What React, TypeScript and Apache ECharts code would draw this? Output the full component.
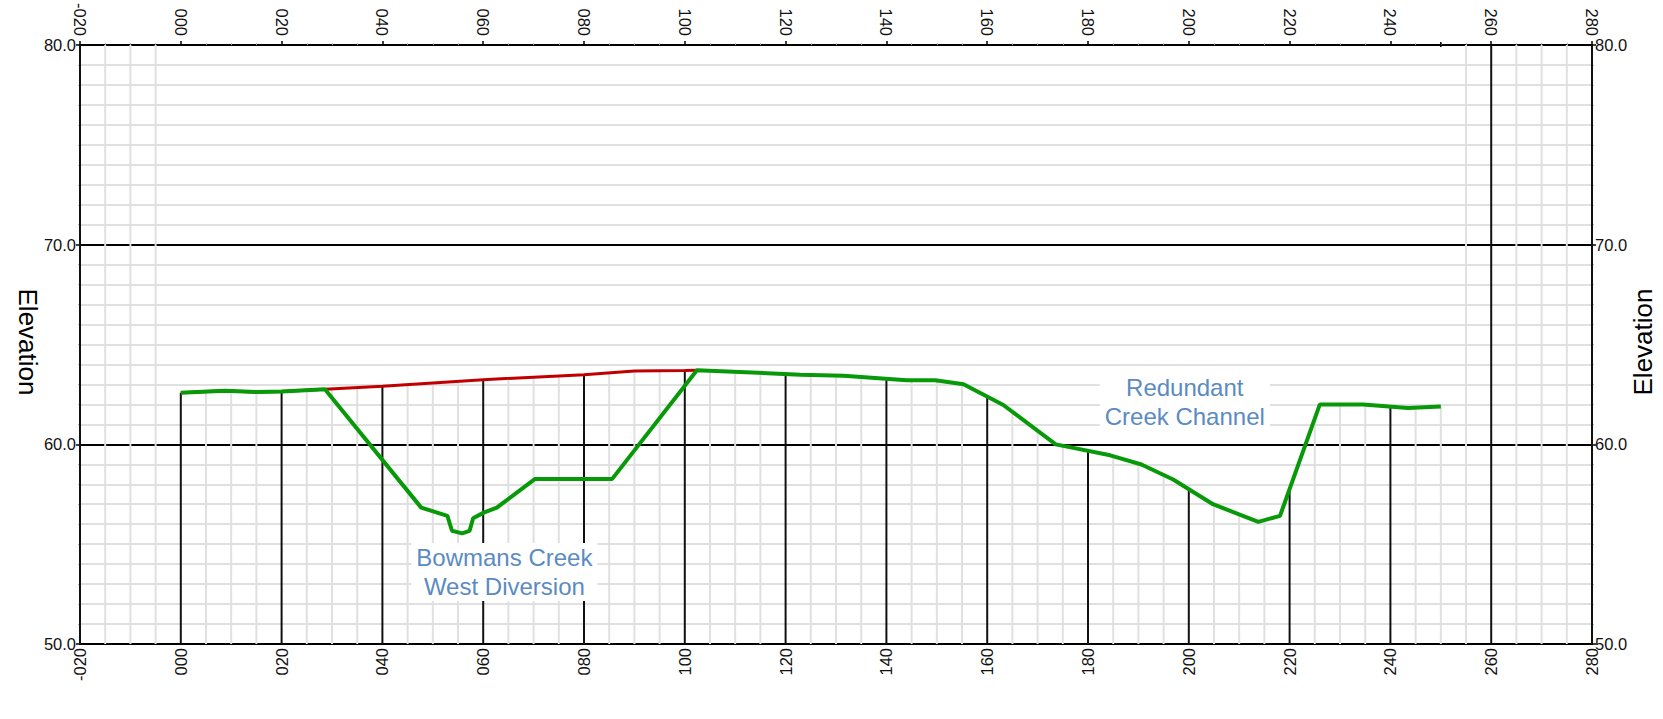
import React, { useEffect, useRef } from 'react';
import * as echarts from 'echarts';

// Existing ground profile (green)
const groundX = [0, 8.7, 15, 20, 28.6, 47.7, 52.9, 53.8, 55.8, 57.3, 58.0, 60.1, 62.7, 70.3, 85.6, 102.4, 122.9, 131.5, 144, 149.7, 155.3, 163.2, 173.6, 184.4, 190.6, 196.9, 204.8, 213.8, 218.1, 226, 234.6, 243.5, 250];
const groundY = [62.58, 62.68, 62.62, 62.65, 62.76, 56.83, 56.42, 55.67, 55.54, 55.67, 56.30, 56.58, 56.83, 58.27, 58.27, 63.71, 63.49, 63.44, 63.21, 63.21, 63.01, 61.97, 60.0, 59.45, 58.99, 58.24, 57.0, 56.12, 56.42, 62.0, 62.0, 61.82, 61.9];

// Design / reference surface (red)
const designX = [0, 8.7, 15, 20, 28.6, 40, 60, 80, 90, 100, 102.4];
const designY = [62.58, 62.68, 62.62, 62.65, 62.76, 62.91, 63.24, 63.49, 63.67, 63.70, 63.71];

// Annotations
const annotationTexts = ['Bowmans Creek\nWest Diversion', 'Redundant\nCreek Channel'];
const annotationX = [64.2, 199.2];
const annotationY = [53.6, 62.1];

// Axis ranges
const X_MIN = -20;
const X_MAX = 280;
const X_MAJOR = 20;
const X_MINOR = 5;
const Y_MIN = 50;
const Y_MAX = 80;
const Y_MAJOR = 10;

const FONT = '"Liberation Sans", Arial, Helvetica, sans-serif';

function interp(xs: number[], ys: number[], x: number): number | null {
  if (x < xs[0] - 1e-9 || x > xs[xs.length - 1] + 1e-9) return null;
  for (let i = 0; i < xs.length - 1; i++) {
    if (x >= xs[i] && x <= xs[i + 1]) {
      const t = (x - xs[i]) / (xs[i + 1] - xs[i]);
      return ys[i] + t * (ys[i + 1] - ys[i]);
    }
  }
  return ys[ys.length - 1];
}

function surfaceTop(x: number): number {
  const vals = [interp(groundX, groundY, x), interp(designX, designY, x)].filter(
    (v) => v !== null
  ) as number[];
  if (!vals.length) return Y_MAX;
  return Math.max(...vals);
}

const fmtX = (v: number) => (v < 0 ? '-' : '') + String(Math.abs(v)).padStart(3, '0');

export default function App() {
  const ref = useRef<HTMLDivElement>(null);
  useEffect(() => {
    if (!ref.current) return;
    const chart = echarts.init(ref.current, undefined, { renderer: 'svg' });

    const gridXs: number[][] = [];
    for (let v = X_MIN; v <= X_MAX; v += X_MINOR) gridXs.push([v]);

    const xLabelBase = { fontSize: 16.5, color: '#111', fontFamily: FONT, rotate: 90, formatter: fmtX, showMinLabel: true, showMaxLabel: true };
    const yLabelBase = { fontSize: 16.5, color: '#111', fontFamily: FONT, formatter: (v: number) => v.toFixed(1), showMinLabel: true, showMaxLabel: true };

    chart.setOption({
      animation: false,
      backgroundColor: '#fff',
      grid: { left: 80, top: 40, width: 1512, height: 604 },
      xAxis: [
        {
          type: 'value', position: 'bottom', min: X_MIN, max: X_MAX, interval: X_MAJOR,
          axisLine: { show: true, onZero: false, lineStyle: { color: '#000', width: 2 } },
          axisTick: { show: false },
          axisLabel: { ...xLabelBase, margin: 4 },
          splitLine: { show: false },
        },
        {
          type: 'value', position: 'top', min: X_MIN, max: X_MAX, interval: X_MAJOR,
          axisLine: { show: true, onZero: false, lineStyle: { color: '#000', width: 2 } },
          axisTick: { show: true, length: 4, lineStyle: { color: '#000', width: 1.5 } },
          minorTick: { show: true, splitNumber: 4, length: 2, lineStyle: { color: '#aaa' } },
          axisLabel: { ...xLabelBase, margin: 9 },
          splitLine: { show: false },
        },
      ],
      yAxis: [
        {
          type: 'value', position: 'left', min: Y_MIN, max: Y_MAX, interval: Y_MAJOR,
          axisLine: { show: true, onZero: false, lineStyle: { color: '#000', width: 2 } },
          axisTick: { show: true, length: 4, lineStyle: { color: '#000', width: 1.5 } },
          minorTick: { show: true, splitNumber: 10, length: 2, lineStyle: { color: '#bbb' } },
          axisLabel: { ...yLabelBase, margin: 4 },
          splitLine: { show: true, lineStyle: { color: '#000', width: 2 } },
          minorSplitLine: { show: true, lineStyle: { color: '#e0e0e0', width: 2 } },
        },
        {
          type: 'value', position: 'right', min: Y_MIN, max: Y_MAX, interval: Y_MAJOR,
          axisLine: { show: true, onZero: false, lineStyle: { color: '#000', width: 2 } },
          axisTick: { show: true, length: 4, lineStyle: { color: '#000', width: 1.5 } },
          minorTick: { show: true, splitNumber: 10, length: 2, lineStyle: { color: '#bbb' } },
          axisLabel: { ...yLabelBase, margin: 3 },
          splitLine: { show: false },
        },
      ],
      graphic: [
        {
          type: 'text', x: 28, y: 342, rotation: -Math.PI / 2,
          style: { text: 'Elevation', fontSize: 26, fontFamily: FONT, fill: '#000', align: 'center', verticalAlign: 'middle' },
        },
        {
          type: 'text', x: 1643, y: 342, rotation: Math.PI / 2,
          style: { text: 'Elevation', fontSize: 26, fontFamily: FONT, fill: '#000', align: 'center', verticalAlign: 'middle' },
        },
      ],
      series: [
        {
          type: 'custom', name: 'vgrid', xAxisIndex: 0, yAxisIndex: 0, z: 1, silent: true,
          data: gridXs,
          encode: { x: 0 },
          renderItem: (params: any, api: any) => {
            const x = api.value(0);
            const top = surfaceTop(x);
            const p1 = api.coord([x, top]);
            const p2 = api.coord([x, Y_MIN]);
            const major = Math.abs(x) % X_MAJOR === 0;
            return {
              type: 'line',
              z2: major ? 2 : 1,
              shape: { x1: p1[0], y1: p1[1], x2: p2[0], y2: p2[1] },
              style: { stroke: major ? '#111' : '#e0e0e0', lineWidth: 2 },
            };
          },
        },
        {
          type: 'custom', name: 'endtick', xAxisIndex: 0, yAxisIndex: 0, z: 1, silent: true,
          data: [[groundX[groundX.length - 1]]],
          encode: { x: 0 },
          renderItem: (params: any, api: any) => {
            const p = api.coord([api.value(0), Y_MAX]);
            return {
              type: 'line',
              shape: { x1: p[0], y1: p[1] - 3, x2: p[0], y2: p[1] + 2 },
              style: { stroke: '#000', lineWidth: 1.5 },
            };
          },
        },
        {
          type: 'line', name: 'Design', xAxisIndex: 0, yAxisIndex: 0, z: 3,
          data: designX.map((x, i) => [x, designY[i]]),
          symbol: 'none',
          lineStyle: { color: '#c00000', width: 3 },
        },
        {
          type: 'line', name: 'Ground', xAxisIndex: 0, yAxisIndex: 0, z: 4,
          data: groundX.map((x, i) => [x, groundY[i]]),
          symbol: 'none',
          lineStyle: { color: '#089908', width: 4 },
        },
        {
          type: 'custom', name: 'labels', xAxisIndex: 0, yAxisIndex: 0, z: 6, silent: true,
          data: annotationX.map((x, i) => [x, annotationY[i]]),
          encode: { x: 0, y: 1 },
          renderItem: (params: any, api: any) => {
            const p = api.coord([api.value(0), api.value(1)]);
            return {
              type: 'text',
              x: p[0],
              y: p[1],
              style: {
                text: annotationTexts[params.dataIndex],
                fill: '#5b8bc1',
                fontSize: 24,
                fontFamily: FONT,
                lineHeight: 29,
                align: 'center',
                verticalAlign: 'middle',
                backgroundColor: '#fff',
                padding: [0, 5],
              },
            };
          },
        },
      ],
    });
    return () => chart.dispose();
  }, []);
  return <div ref={ref} style={{ position: 'absolute', left: 0, top: 0, width: 1663, height: 719 }} />;
}
